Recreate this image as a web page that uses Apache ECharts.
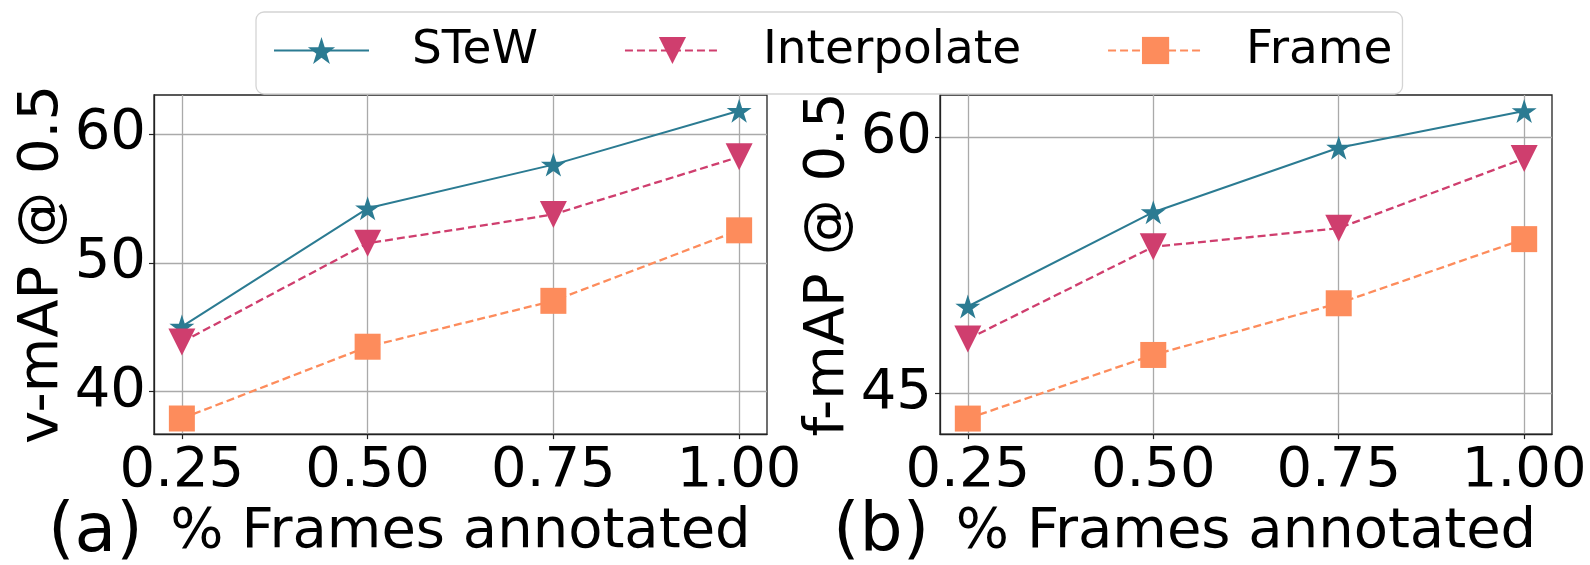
<!DOCTYPE html>
<html>
<head>
<meta charset="utf-8">
<script src="https://cdn.jsdelivr.net/npm/echarts@6/dist/echarts.min.js"></script>
<style>
  html, body { margin: 0; padding: 0; background: #fff; }
  #chart { width: 1590px; height: 565px; }
</style>
</head>
<body>
<div id="chart"></div>
<script>
// fraction of frames annotated
const xTicks = [0.25, 0.5, 0.75, 1.0]

// (a) v-mAP @ 0.5
const stewV = [45.05, 54.23, 57.62, 61.8]
const interpV = [43.85, 51.52, 53.75, 58.22]
const frameV = [37.92, 43.49, 47.05, 52.52]

// (b) f-mAP @ 0.5
const stewF = [50.07, 55.6, 59.38, 61.53]
const interpF = [48.16, 53.57, 54.66, 58.75]
const frameF = [43.5, 47.23, 50.26, 54.02]

const yTicksV = [40, 50, 60]
const yTicksF = [45, 60]

const names = ['STeW', 'Interpolate', 'Frame']
const colors = ['#2b7b92', '#cf3e6e', '#fd8c5c']

const FONT = 'DejaVu Sans'
const AXIS = '#222'
const GRID = '#aaaaaa'

// 5-point star marker
function starPath() {
  const pts = []
  for (let i = 0; i < 10; i++) {
    const r = i % 2 === 0 ? 1 : 0.382
    const a = -Math.PI / 2 + i * Math.PI / 5
    pts.push((r * Math.cos(a)).toFixed(4) + ',' + (r * Math.sin(a)).toFixed(4))
  }
  return 'path://M' + pts.join('L') + 'Z'
}
const symbols = [starPath(), 'path://M0,0L2,0L1,2Z', 'rect']
const symbolSizes = [[25, 24], 27, 26]
const lineTypes = ['solid', [8, 4], [8, 4]]
const lineWidths = [2, 2.3, 2.3]

function pairs(vals) {
  return xTicks.map((x, i) => [x, vals[i]])
}

function xAxisFor(idx) {
  return {
    type: 'value',
    gridIndex: idx,
    min: 0.2125,
    max: 1.0375,
    name: '% Frames annotated',
    nameLocation: 'middle',
    nameGap: 65,
    nameTextStyle: { fontSize: 56, fontFamily: FONT, color: '#000' },
    axisLine: { show: true, lineStyle: { color: AXIS, width: 1.3 } },
    axisTick: { show: true, length: 5, customValues: xTicks, lineStyle: { color: AXIS, width: 1.2 } },
    axisLabel: {
      customValues: xTicks,
      margin: 9,
      fontSize: 56,
      fontFamily: FONT,
      color: '#000',
      formatter: v => v.toFixed(2)
    },
    splitLine: { show: true, lineStyle: { color: GRID, width: 1.3 } }
  }
}

function yAxisFor(idx, min, max, ticks, name, gap) {
  return {
    type: 'value',
    gridIndex: idx,
    min: min,
    max: max,
    name: name,
    nameLocation: 'middle',
    nameRotate: 90,
    nameGap: gap,
    nameTextStyle: { fontSize: 56, fontFamily: FONT, color: '#000' },
    axisLine: { show: true, lineStyle: { color: AXIS, width: 1.3 } },
    axisTick: { show: true, length: 5, customValues: ticks, lineStyle: { color: AXIS, width: 1.2 } },
    axisLabel: { customValues: ticks, margin: 8, fontSize: 56, fontFamily: FONT, color: '#000' },
    splitLine: { show: true, lineStyle: { color: GRID, width: 1.3 } }
  }
}

function seriesFor(idx, lists) {
  return lists.map((vals, i) => ({
    name: names[i],
    type: 'line',
    xAxisIndex: idx,
    yAxisIndex: idx,
    data: pairs(vals),
    symbol: symbols[i],
    symbolSize: symbolSizes[i],
    showAllSymbol: true,
    color: colors[i],
    itemStyle: { color: colors[i] },
    lineStyle: { color: colors[i], width: lineWidths[i], type: lineTypes[i] },
    z: 3 + i,
    animation: false
  }))
}

const chart = echarts.init(document.getElementById('chart'), null, { renderer: 'canvas' })
chart.setOption({
  backgroundColor: '#fff',
  animation: false,
  grid: [
    { left: 154, top: 95, width: 613, height: 354, show: true, borderColor: AXIS, borderWidth: 1.3 },
    { left: 940, top: 95, width: 612, height: 354, show: true, borderColor: AXIS, borderWidth: 1.3 }
  ],
  legend: {
    data: names,
    left: 256,
    top: 12,
    orient: 'horizontal',
    padding: [15, 10, 20, 17],
    itemWidth: 95,
    itemHeight: 34,
    itemGap: 86,
    backgroundColor: 'rgba(255,255,255,0.85)',
    borderColor: '#d4d4d4',
    borderWidth: 1.3,
    borderRadius: 8,
    textStyle: { fontSize: 47, fontFamily: FONT, color: '#000', padding: [0, 0, 0, 38] },
    z: 10
  },
  xAxis: [xAxisFor(0), xAxisFor(1)],
  yAxis: [
    yAxisFor(0, 36.71, 63.02, yTicksV, 'v-mAP @ 0.5', 81),
    yAxisFor(1, 42.59, 62.47, yTicksF, 'f-mAP @ 0.5', 84)
  ],
  graphic: [
    { type: 'text', left: 48, top: 499, style: { text: '(a)', fontSize: 68, fontFamily: FONT, fill: '#000' } },
    { type: 'text', left: 833, top: 499, style: { text: '(b)', fontSize: 68, fontFamily: FONT, fill: '#000' } }
  ],
  series: seriesFor(0, [stewV, interpV, frameV]).concat(seriesFor(1, [stewF, interpF, frameF]))
})
</script>
</body>
</html>
